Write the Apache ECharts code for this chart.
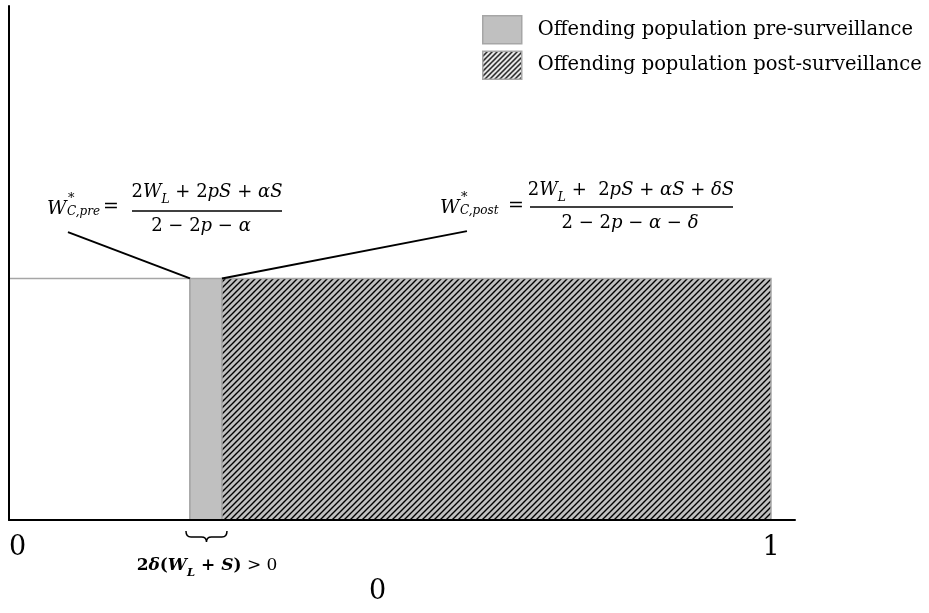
<!DOCTYPE html>
<html>
<head>
<meta charset="utf-8">
<script src="https://cdn.jsdelivr.net/npm/echarts@6/dist/echarts.min.js"></script>
<style>html,body{margin:0;padding:0;background:#fff}#chart{width:929px;height:613px}</style>
</head>
<body>
<div id="chart"></div>
<script>
// data, in axis units (x: 0..1 population share, y: 0..1 height)
const seriesNames = ['Offending population pre-surveillance', 'Offending population post-surveillance'];
const xTickValues = [0, 1];
const xAxisEnd = 1.0315;
const yAxisEnd = 1;
const cutoffPre = 0.2375;   // W*_C,pre
const cutoffPost = 0.2795;  // W*_C,post
const populationEnd = 1;
const density = 0.47;
const leaderPre = [[0.0774, 0.56], [cutoffPre, density]];
const leaderPost = [[0.601, 0.562], [cutoffPost, density]];

const mathFont = 'DejaVu Serif';
const grey = '#c0c0c0';
const edge = '#a6a6a6';

const makeHatch = (bg, size, lw) => {
  const c = document.createElement('canvas');
  c.width = c.height = size;
  const g = c.getContext('2d');
  g.fillStyle = bg;
  g.fillRect(0, 0, size, size);
  g.strokeStyle = '#000';
  g.lineWidth = lw;
  g.beginPath();
  g.moveTo(-1, size + 1); g.lineTo(size + 1, -1);
  g.moveTo(-1, 1); g.lineTo(1, -1);
  g.moveTo(size - 1, size + 1); g.lineTo(size + 1, size - 1);
  g.stroke();
  return { image: c, repeat: 'repeat' };
};
const hatchChart = makeHatch(grey, 6, 1.4);
const hatchLegend = makeHatch('#fff', 5, 1.5);

const rectItem = (fill) => (params, api) => {
  const p0 = api.coord([api.value(0), api.value(2)]);
  const p1 = api.coord([api.value(1), 0]);
  return {
    type: 'rect',
    shape: { x: p0[0], y: p0[1], width: p1[0] - p0[0], height: p1[1] - p0[1] },
    style: { fill, stroke: edge, lineWidth: 1.5 }
  };
};

const braceItem = (params, api) => {
  const p0 = api.coord([api.value(0), 0]);
  const p1 = api.coord([api.value(1), 0]);
  const xa = p0[0] - 4, xb = p1[0] + 5, xm = (xa + xb) / 2;
  const yt = p0[1] + 11, yh = yt + 6, ytip = yt + 11;
  const d = `M${xa} ${yt} Q${xa} ${yh} ${xa + 5} ${yh} L${xm - 5} ${yh} Q${xm} ${yh} ${xm} ${ytip}` +
    ` Q${xm} ${yh} ${xm + 5} ${yh} L${xb - 5} ${yh} Q${xb} ${yh} ${xb} ${yt}`;
  return { type: 'path', shape: { pathData: d }, style: { fill: null, stroke: '#000', lineWidth: 1.5 } };
};

const rich = (size, bold) => {
  const w = bold ? 'bold' : 'normal';
  return {
    n: { fontFamily: mathFont, fontSize: size, fontWeight: w, lineHeight: size * 1.5, verticalAlign: 'middle' },
    i: { fontFamily: mathFont, fontSize: size, fontWeight: w, fontStyle: 'italic', lineHeight: size * 1.5, verticalAlign: 'middle' },
    m: { fontFamily: mathFont, fontSize: size, lineHeight: size * 1.5, verticalAlign: 'middle' },
    sub: { fontFamily: mathFont, fontSize: size * 0.68, fontWeight: w, fontStyle: 'italic', lineHeight: size * 0.68, verticalAlign: 'bottom' }
  };
};
const mtext = (x, y, text, size, bold) => ({
  type: 'text', x, y, z: 20,
  style: { text, rich: rich(size, bold), align: 'center', verticalAlign: 'middle', fill: '#000' }
});
const plain = (x, y, text, size, italic) => ({
  type: 'text', x, y, z: 20,
  style: { text, font: `${italic ? 'italic ' : ''}${size}px "${mathFont}"`, align: 'left', verticalAlign: 'middle', fill: '#000' }
});
const bar = (x1, x2, y) => ({ type: 'line', z: 20, shape: { x1, y1: y, x2, y2: y }, style: { stroke: '#000', lineWidth: 1.5 } });

const chart = echarts.init(document.getElementById('chart'));
chart.setOption({
  animation: false,
  backgroundColor: '#fff',
  grid: { left: 9, right: 134, top: 6, bottom: 93 },
  legend: {
    orient: 'vertical', left: 482, top: 15, padding: 0,
    itemWidth: 39, itemHeight: 28, itemGap: 6, icon: 'rect',
    selectedMode: false,
    textStyle: { fontFamily: 'DejaVu Serif', fontSize: 19.5, color: '#000', padding: [5, 0, 0, 11] },
    data: [
      { name: seriesNames[0], itemStyle: { color: grey, borderColor: edge, borderWidth: 1.5 } },
      { name: seriesNames[1], itemStyle: { color: hatchLegend, borderColor: edge, borderWidth: 1.5 } }
    ]
  },
  xAxis: {
    type: 'value', min: 0, max: xAxisEnd, z: 10,
    axisLine: { lineStyle: { color: '#000', width: 2 } },
    axisTick: { show: false },
    splitLine: { show: false },
    axisLabel: {
      customValues: xTickValues, alignMinLabel: 'left',
      fontFamily: 'DejaVu Serif', fontSize: 27, color: '#000', margin: 14
    }
  },
  yAxis: {
    type: 'value', min: 0, max: yAxisEnd, z: 10,
    axisLine: { show: true, lineStyle: { color: '#000', width: 2 } },
    axisTick: { show: false }, axisLabel: { show: false }, splitLine: { show: false }
  },
  series: [
    {
      type: 'custom', name: 'base', renderItem: rectItem('#fff'),
      data: [[0, cutoffPre, density]],
      markLine: {
        silent: true, symbol: ['none', 'none'], label: { show: false },
        lineStyle: { color: '#000', width: 2, type: 'solid' },
        data: [
          [{ coord: leaderPre[0] }, { coord: leaderPre[1] }],
          [{ coord: leaderPost[0] }, { coord: leaderPost[1] }]
        ]
      }
    },
    { type: 'custom', name: seriesNames[0], renderItem: rectItem(grey), itemStyle: { color: grey }, data: [[cutoffPre, cutoffPost, density]] },
    { type: 'custom', name: seriesNames[1], renderItem: rectItem(hatchChart), itemStyle: { color: hatchChart }, data: [[cutoffPost, populationEnd, density]] },
    { type: 'custom', name: 'brace', renderItem: braceItem, data: [[cutoffPre, cutoffPost]] }
  ],
  graphic: [
    // W*_C,pre
    plain(47, 209, 'W', 19, true),
    plain(68, 199, '*', 13, false),
    plain(67, 212, 'C,pre', 12, true),
    plain(103, 207, '=', 19, false),
    mtext(207, 192, '{n|2}{i|W}{sub|L}{n| + 2}{i|pS}{n| + }{i|αS}', 18),
    bar(132, 282, 211),
    mtext(201, 226, '{n|2 − 2}{i|p}{n| − }{i|α}', 18),
    // W*_C,post
    plain(440, 208, 'W', 19, true),
    plain(461, 198, '*', 13, false),
    plain(460, 211, 'C,post', 12, true),
    plain(508, 206, '=', 19, false),
    mtext(631, 190, '{n|2}{i|W}{sub|L}{n| +  2}{i|pS}{n| + }{i|αS}{n| + }{i|δS}', 18),
    bar(530, 733, 207),
    mtext(630, 223, '{n|2 − 2}{i|p}{n| − }{i|α}{n| − }{i|δ}', 18),
    // brace label and stray zero
    mtext(207, 566, '{n|2}{i|δ}{n|(}{i|W}{sub|L}{n| + }{i|S}{n|)}{m| > 0}', 17, true),
    plain(369, 592, '0', 27, false)
  ]
});
</script>
</body>
</html>
